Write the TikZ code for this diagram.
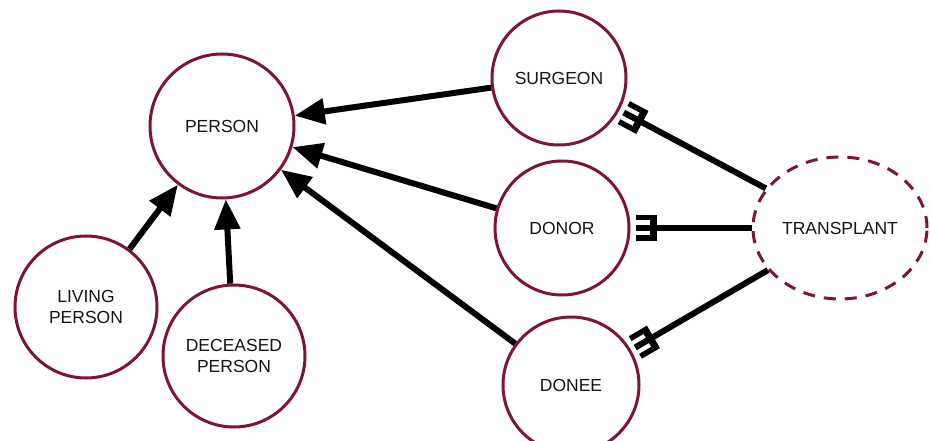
\documentclass[tikz,border=0pt]{standalone}
\usepackage{fontspec}
\setmainfont{Liberation Sans}
\usetikzlibrary{arrows.meta,shapes.geometric,decorations.markings}
\definecolor{crim}{RGB}{128,20,52}
\definecolor{ink}{RGB}{20,20,20}
\tikzset{
  entity/.style={circle, draw=crim, line width=3pt, fill=white, minimum size=#1,
    inner sep=0pt, text=ink, align=center, font=\fontsize{17.5}{20.5}\selectfont},
  weakentity/.style={ellipse, draw=crim, line width=3pt, dash pattern=on 12pt off 9pt,
    fill=white, minimum width=174pt, minimum height=142pt, inner sep=0pt,
    text=ink, font=\fontsize{17.5}{20.5}\selectfont},
  isa/.style={line width=6pt, -{Triangle[length=30pt,width=25pt]}},
  rel/.style={line width=6pt, shorten <=5pt},
  % three-pronged end marker, drawn at the start of the path
  fork/.style={decorate, decoration={markings, mark=at position 5pt with {
    \fill (0pt,-13pt) rectangle (14pt,-7.5pt);
    \fill (0pt,-2.75pt) rectangle (14pt,2.75pt);
    \fill (0pt,7.5pt) rectangle (14pt,13pt);
    \fill (14pt,-13pt) rectangle (21pt,13pt);}}}
}
\begin{document}
\begin{tikzpicture}[x=1pt,y=-1pt]
  \useasboundingbox (0,0) rectangle (930,441);

  % entities
  \node[entity=144pt] (person)   at (222,126) {PERSON};
  \node[entity=134pt] (surgeon)  at (559,78)  {SURGEON};
  \node[entity=134pt] (donor)    at (562,228) {DONOR};
  \node[entity=136pt] (donee)    at (571,385) {DONEE};
  \node[entity=142pt] (living)   at (86,307)  {LIVING\\PERSON};
  \node[entity=142pt] (deceased) at (234,356) {DECEASED\\PERSON};
  \node[weakentity]   (transplant) at (840,228) {TRANSPLANT};

  % generalisation arrows
  \draw[isa] (surgeon)  -- (person);
  \draw[isa] (donor)    -- (person);
  \draw[isa] (donee)    -- (person);
  \draw[isa] (living)   -- (person);
  \draw[isa] (deceased) -- (person);

  % relationships with the transplant
  \draw[rel] (surgeon) -- (transplant);
  \draw[rel] (donor)   -- (transplant);
  \draw[rel] (donee)   -- (transplant);
  \path[fork] (surgeon) -- (transplant);
  \path[fork] (donor)   -- (transplant);
  \path[fork] (donee)   -- (transplant);
\end{tikzpicture}
\end{document}
